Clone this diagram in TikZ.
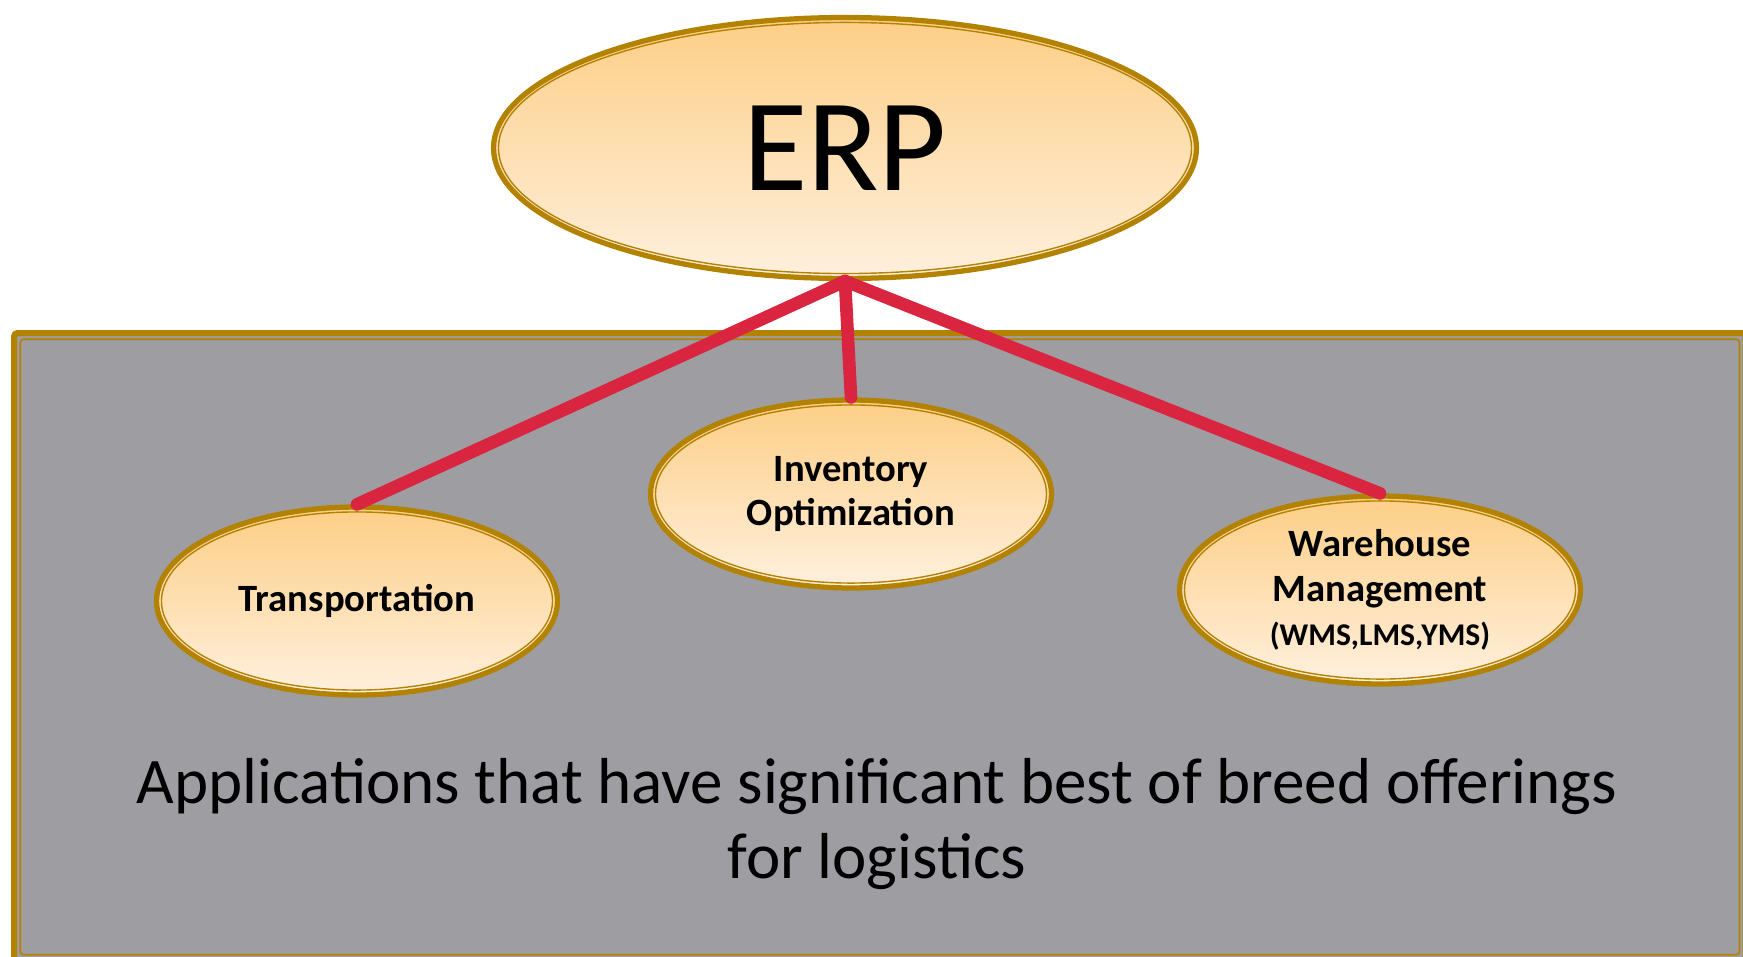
\documentclass[tikz,border=0pt]{standalone}
\usepackage{fontspec}
\setmainfont{Carlito}
\usetikzlibrary{shapes.geometric,calc}
\definecolor{gold}{HTML}{B38200}
\definecolor{panelgray}{HTML}{9E9DA2}
\definecolor{ovaltop}{HTML}{FDCE86}
\definecolor{ovalbottom}{HTML}{FEF0DE}
\definecolor{linkred}{HTML}{D9253F}
\tikzset{
  oval/.style={%
    ellipse, draw=gold, line width=3pt, inner sep=0pt, align=center,
    top color=ovaltop, bottom color=ovalbottom,
    path picture={\draw[gold, line width=0.8pt]
      let \p1=(path picture bounding box.north east),
          \p2=(path picture bounding box.center) in
      (\p2) ellipse [x radius=\x1-\x2-2.8pt, y radius=\y1-\y2-2.8pt];},
  },
  small oval/.style={%
    oval, minimum width=8.02cm, minimum height=3.76cm,
    font=\bfseries\fontsize{22}{25.5}\selectfont,
  },
  panel/.style={%
    draw=gold, line width=3.5pt, fill=panelgray, rounded corners=2pt,
    inner sep=0pt, minimum width=34.64cm, minimum height=12.56cm,
    path picture={\draw[gold, line width=1pt]
      ($(path picture bounding box.south west)+(3.5pt,3.5pt)$) rectangle
      ($(path picture bounding box.north east)-(3.5pt,3.5pt)$);},
  },
  link/.style={draw=linkred, line width=7.2pt, line cap=round},
  caption/.style={align=center, font=\fontsize{37}{42.4}\selectfont},
}
\begin{document}
\begin{tikzpicture}[x=0.02cm,y=-0.02cm]
\useasboundingbox (0,0) rectangle (1743,956);
\node[panel, anchor=north west] (panel) at (11,330) {};
\node[oval, minimum width=14.06cm, minimum height=5.22cm,
      font=\fontsize{75}{80}\selectfont] (erp) at (845,148) {ERP};
\node[small oval] (transport) at (357,601) {Transportation};
\node[small oval] (inventory) at (851,494) {Inventory\\Optimization};
\node[small oval] (warehouse) at (1380,590)
  {Warehouse\\Management\\{\fontsize{18}{21}\selectfont (WMS,LMS,YMS)}};
\node[caption] (apps) at (877,824)
  {Applications that have significant best of breed offerings\\for logistics};
% links from ERP down to the applications
\draw[link] (erp.south) -- (transport.north);
\draw[link] (erp.south) -- (inventory.north);
\draw[link] (erp.south) -- (warehouse.north);
\end{tikzpicture}
\end{document}
